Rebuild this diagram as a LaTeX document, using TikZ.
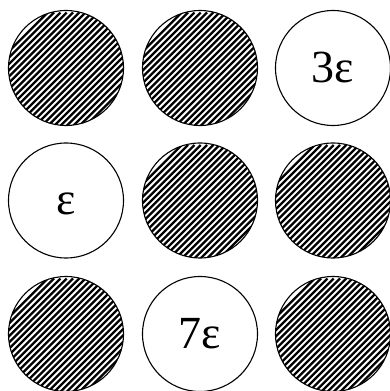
\documentclass[tikz,border=0pt]{standalone}
\usepackage{fontspec}
\setmainfont{Liberation Serif}
\begin{document}
\begin{tikzpicture}[x=1pt, y=1pt,
    cellbox/.style={circle, draw=black, line width=1.1pt, minimum size=115pt, inner sep=0pt,
                    font=\fontsize{46}{52}\selectfont, text height=29pt, text depth=0pt},
    hatchbox/.style={cellbox, path picture={
        \foreach \k in {-14,...,14}
          \draw[line width=2.3pt, shift={(path picture bounding box.center)}]
            (\k*6.3-70, -70) -- ++(140, 140);
      }}
]
\useasboundingbox (0,0) rectangle (390,391);

%% Grid of cells, placed at explicit coordinates %%

% Top row
\node[hatchbox] (c11) at (66,  323) {};
\node[hatchbox] (c12) at (200, 323) {};
\node[cellbox]  (c13) at (333, 323) {3ε};

% Middle row
\node[cellbox]  (c21) at (66,  190.5) {ε};
\node[hatchbox] (c22) at (200, 190.5) {};
\node[hatchbox] (c23) at (333, 190.5) {};

% Bottom row
\node[hatchbox] (c31) at (66,  57) {};
\node[cellbox]  (c32) at (200, 57) {7ε};
\node[hatchbox] (c33) at (333, 57) {};

\end{tikzpicture}
\end{document}
